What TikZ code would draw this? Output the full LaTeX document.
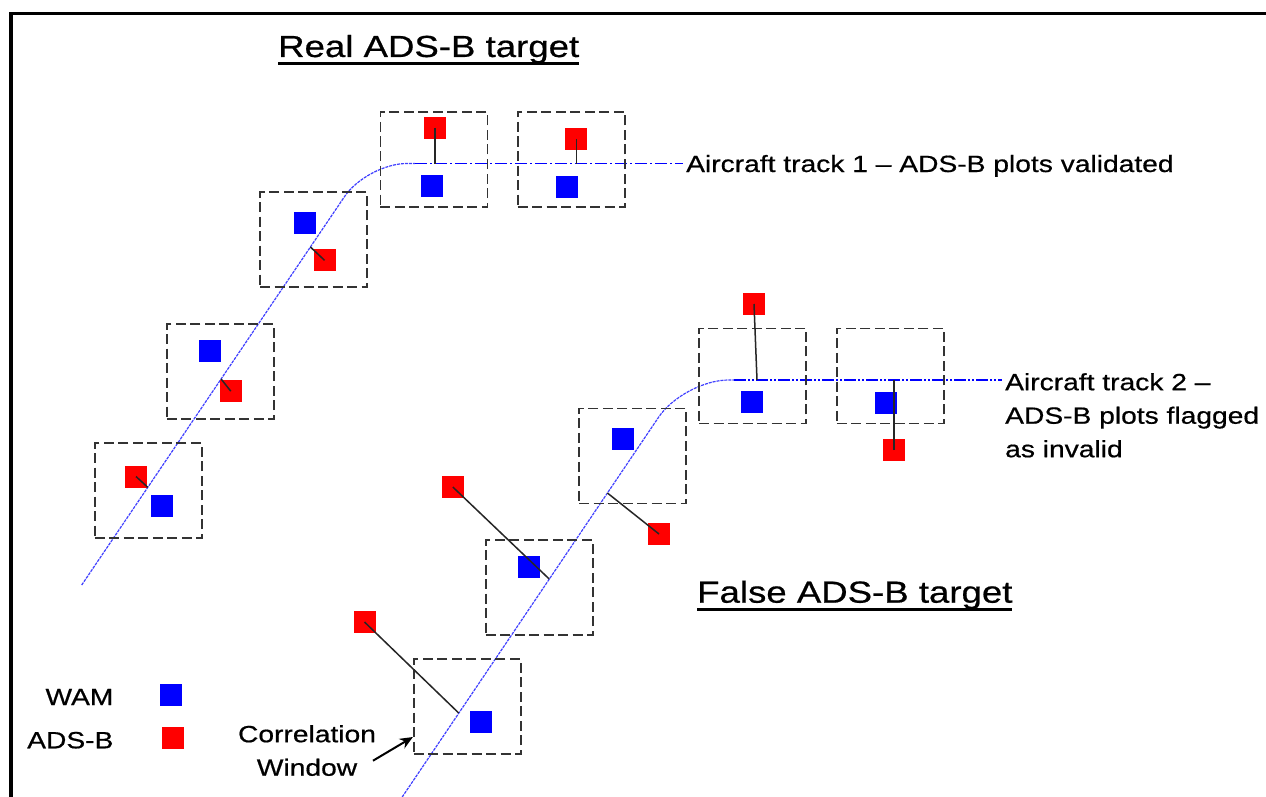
\documentclass[tikz,border=0pt]{standalone}
\usepackage{fontspec}
\setmainfont{Liberation Sans}[FakeStretch=1.2,FakeBold=0.6]
\usetikzlibrary{arrows.meta}
\newcommand\ulin[1]{\setbox0\hbox{#1}\rlap{\rule[-7.8pt]{\wd0}{3pt}}\box0}
\begin{document}
\begin{tikzpicture}[x=1pt,y=-1pt,
  win/.style={draw=black!80, line width=1.6pt, dash pattern=on 10pt off 4.5pt, minimum width=107pt, minimum height=95pt, inner sep=0pt},
  wam/.style={fill=blue, minimum size=22pt, inner sep=0pt},
  adsb/.style={fill=red, minimum size=22pt, inner sep=0pt},
  link/.style={draw=black!85, line width=1.5pt},
  diag/.style={draw=blue!75, line width=1.2pt, dash pattern=on 3pt off 1pt},
  trone/.style={draw=blue, line width=1.4pt, dash pattern=on 12pt off 3pt on 2pt off 3pt},
  trtwo/.style={draw=blue, line width=1.4pt, dash pattern=on 12pt off 2pt on 2pt off 2pt on 2pt off 2pt},
  lbl/.style={font=\fontsize{23.5}{33.5}\selectfont, inner sep=0pt},
  ttl/.style={font=\fontsize{30.5}{36}\selectfont, inner sep=0pt},
  pointer/.style={draw=black, line width=2pt, -{Stealth[length=13pt,width=11pt]}}]

\useasboundingbox (0,0) rectangle (1266,797);
\fill[white] (0,0) rectangle (1266,797);
\draw[line width=3.5pt] (11,797) -- (11,13.5) -- (1266,13.5);

% titles
\node[ttl, anchor=base west] (real) at (278,57) {\ulin{Real ADS-B target}};
\node[ttl, anchor=base west] (false) at (697,602.7) {\ulin{False ADS-B target}};

% track 1
\coordinate (t1s) at (81.7,585);
\coordinate (t1c) at (366.9,163.5);
\coordinate (t1m) at (415,163.5);
\coordinate (t1e) at (683,163.5);
\draw[diag, rounded corners=40pt] (t1s) -- (t1c) -- (t1m);
\draw[trone] (t1m) -- (t1e);
\node[lbl, anchor=base west] (lab1) at (686,172) {Aircraft track 1 -- ADS-B plots validated};

% track 2
\coordinate (t2s) at (402.2,797);
\coordinate (t2c) at (683.7,380);
\coordinate (t2m) at (734,380);
\coordinate (t2e) at (1002,380);
\draw[diag, rounded corners=45pt] (t2s) -- (t2c) -- (t2m);
\draw[trtwo] (t2m) -- (t2e);
\node[lbl, anchor=north west, align=left] (lab2) at (1005,373) {Aircraft track 2 --\\ADS-B plots flagged\\as invalid};

% correlation windows, track 1
\node[win] (b1) at (148.3,490.5) {};
\node[win] (b2) at (220.3,371.5) {};
\node[win] (b3) at (313.7,239.5) {};
\node[win] (b4) at (433.8,159.5) {};
\node[win] (b5) at (571.2,159.5) {};
% correlation windows, track 2
\node[win] (c1) at (467.2,706.7) {};
\node[win] (c2) at (539.2,587.5) {};
\node[win] (c3) at (632.5,455.8) {};
\node[win] (c4) at (752.7,375.8) {};
\node[win] (c5) at (890.3,375.8) {};

% plots, track 1
\node[adsb] (rb1) at (136,476.5) {};
\node[wam]  (wb1) at (161.7,505.7) {};
\node[wam]  (wb2) at (209.7,351) {};
\node[adsb] (rb2) at (230.8,391.2) {};
\node[wam]  (wb3) at (304.5,223) {};
\node[adsb] (rb3) at (324.5,260.3) {};
\node[adsb] (rb4) at (435,128) {};
\node[wam]  (wb4) at (432,185.5) {};
\node[adsb] (rb5) at (576.3,139) {};
\node[wam]  (wb5) at (567,187) {};
% plots, track 2
\node[adsb] (rc1) at (364.5,622) {};
\node[wam]  (wc1) at (480.5,722) {};
\node[adsb] (rc2) at (452.8,487) {};
\node[wam]  (wc2) at (528.7,567) {};
\node[wam]  (wc3) at (623,439) {};
\node[adsb] (rc3) at (659,534) {};
\node[adsb] (rc4) at (754,304) {};
\node[wam]  (wc4) at (751.8,401.7) {};
\node[wam]  (wc5) at (886,403) {};
\node[adsb] (rc5) at (894,450) {};

% track points
\coordinate (pb1) at (147.8,487.3);
\coordinate (pb2) at (221.1,379);
\coordinate (pb3) at (310.4,247);
\coordinate (pb4) at (435,163.5);
\coordinate (pb5) at (576.3,163.5);
\coordinate (pc1) at (458.7,713);
\coordinate (pc2) at (549.2,579);
\coordinate (pc3) at (607.4,493);
\coordinate (pc4) at (757,380);
\coordinate (pc5) at (894,380);

% links
\draw[link] (rb1.center) -- (pb1);
\draw[link] (rb2.center) -- (pb2);
\draw[link] (rb3.center) -- (pb3);
\draw[link] (rb4.center) -- (pb4);
\draw[link] (rb5.center) -- (pb5);
\draw[link] (rc1.center) -- (pc1);
\draw[link] (rc2.center) -- (pc2);
\draw[link] (rc3.center) -- (pc3);
\draw[link] (rc4.center) -- (pc4);
\draw[link] (rc5.center) -- (pc5);

% legend
\node[lbl, anchor=base east] (lwam) at (113.6,705) {WAM};
\node[lbl, anchor=base east] (ladsb) at (113.6,748.3) {ADS-B};
\node[wam]  (kwam) at (171,695) {};
\node[adsb] (kadsb) at (172.5,738) {};

% correlation window label
\node[lbl, anchor=north, align=center] (corr) at (307,725) {Correlation\\Window};
\coordinate (atail) at (373,760.7);
\coordinate (ahead) at (c1.west |- 0,737);
\draw[pointer] (atail) -- (ahead);
\end{tikzpicture}
\end{document}
